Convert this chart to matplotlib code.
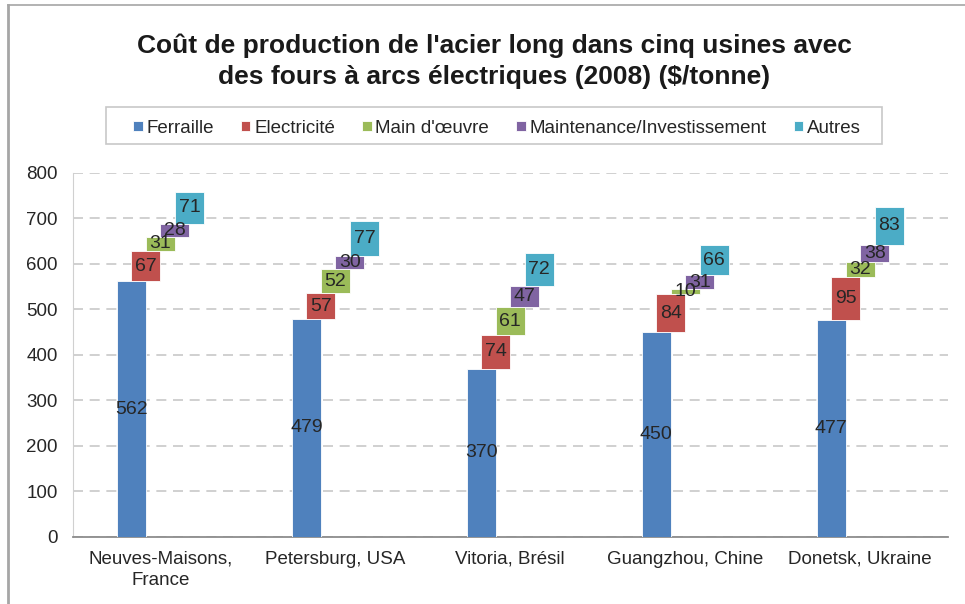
import numpy as np
import matplotlib
matplotlib.use('Agg')
import matplotlib.pyplot as plt
from matplotlib.lines import Line2D
from matplotlib.patches import Rectangle

plt.rcParams['font.family'] = ['Liberation Sans', 'DejaVu Sans']

usines = ['Neuves-Maisons,\nFrance', 'Petersburg, USA', 'Vitoria, Brésil',
          'Guangzhou, Chine', 'Donetsk, Ukraine']
series = ['Ferraille', 'Electricité', "Main d'œuvre",
          'Maintenance/Investissement', 'Autres']
ferraille = [562, 479, 370, 450, 477]
electricite = [67, 57, 74, 84, 95]
main_oeuvre = [31, 52, 61, 10, 32]
maintenance = [28, 30, 47, 31, 38]
autres = [71, 77, 72, 66, 83]
couleurs = ['#4F81BD', '#C0504D', '#9BBB59', '#8064A2', '#4BACC6']

fig = plt.figure(figsize=(9.65, 6.04), dpi=100)
ax = fig.add_axes([0.0756, 0.111, 0.9064, 0.6026])

x = np.arange(len(usines))
width = 0.166
step = 0.083
bottom = np.zeros(len(usines))
for i, (nom, vals, c) in enumerate(zip(series, [ferraille, electricite, main_oeuvre, maintenance, autres], couleurs)):
    vals = np.array(vals, dtype=float)
    xpos = x + (i - 2) * step
    ax.bar(xpos, vals, width, bottom=bottom, color=c, edgecolor='white',
           linewidth=0.6, label=nom, zorder=3)
    for xx, b, v in zip(xpos, bottom, vals):
        ax.text(xx, b + v / 2, '%d' % v, ha='center', va='center',
                fontsize=14, color='#262626', zorder=4)
    bottom = bottom + vals

ax.set_xlim(-0.5, len(usines) - 0.5)
ax.set_ylim(0, 800)
ax.set_yticks(range(0, 801, 100))
ax.set_xticks(x)
ax.set_xticklabels(usines, linespacing=1.3)
ax.tick_params(axis='both', labelsize=13.5, length=0, colors='#262626')
ax.tick_params(axis='x', pad=10)
ax.tick_params(axis='y', pad=11)
ax.yaxis.grid(True, linestyle=(0, (6, 4)), color='#c8c8c8', linewidth=1.2, zorder=0)
for s in ['top', 'right']:
    ax.spines[s].set_visible(False)
ax.spines['left'].set_color('#d0d0d0')
ax.spines['bottom'].set_color('#8c8c8c')
ax.spines['bottom'].set_linewidth(1.3)

fig.text(0.512, 0.899, "Coût de production de l'acier long dans cinq usines avec\n"
         "des fours à arcs électriques (2008) ($/tonne)",
         ha='center', va='center', fontsize=19, fontweight='bold',
         color='#1a1a1a', linespacing=1.35)

# légende sans cadre, le cadre est dessiné à part (marges plus larges)
leg = fig.legend(loc='center', bbox_to_anchor=(0.515, 0.788), ncol=5,
                 fontsize=13.5, frameon=False, handlelength=0.5,
                 handleheight=0.5, handletextpad=0.2, columnspacing=1.45,
                 borderpad=0.2)
for t in leg.get_texts():
    t.set_color('#262626')
fig.add_artist(Rectangle((0.1098, 0.7616), 0.8041, 0.0613, transform=fig.transFigure,
                         facecolor='none', edgecolor='#c8c8c8', lw=1.2))

# cadre gris du graphique
fig.add_artist(Line2D([0.0085, 0.0085], [0, 0.992], color='#a6a6a6', lw=2,
                      transform=fig.transFigure))
fig.add_artist(Line2D([0.0085, 1.0], [0.992, 0.992], color='#a6a6a6', lw=1.2,
                      transform=fig.transFigure))

fig.savefig('out.png', dpi=100)
